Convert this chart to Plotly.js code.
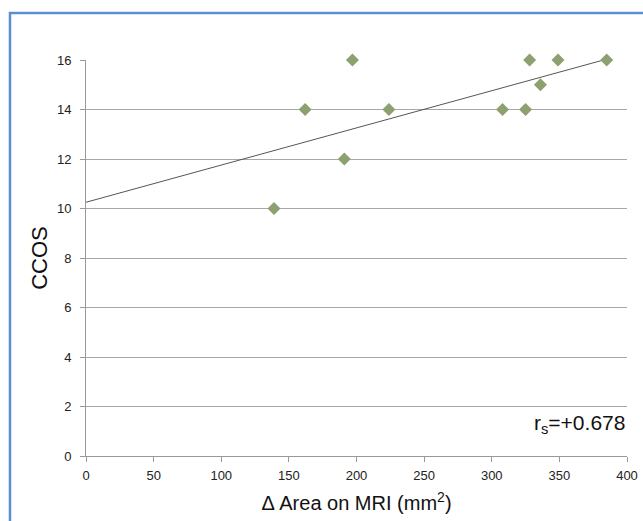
<!DOCTYPE html>
<html>
<head>
<meta charset="utf-8">
<script src="https://cdn.plot.ly/plotly-3.0.1.min.js"></script>
<style>
html,body{margin:0;padding:0;background:#fff;}
#chart{width:643px;height:521px;}
</style>
</head>
<body>
<div id="chart"></div>
<script>
// Data
const deltaArea = [139, 162, 191, 197, 224, 308, 325, 328, 336, 349, 385];
const ccos      = [10, 14, 12, 16, 14, 14, 14, 16, 15, 16, 16];
const xTicks = [0, 50, 100, 150, 200, 250, 300, 350, 400];
const yTicks = [0, 2, 4, 6, 8, 10, 12, 14, 16];
const corrLabel = 'r<sub>s</sub>=+0.678';
const xTitle = '\u0394 Area on MRI (mm<sup>2</sup>)';
const yTitle = 'CCOS';

// Least-squares trend line
const n = deltaArea.length;
const mx = deltaArea.reduce((a,b)=>a+b,0)/n;
const my = ccos.reduce((a,b)=>a+b,0)/n;
let sxy=0, sxx=0;
for (let i=0;i<n;i++){ sxy += (deltaArea[i]-mx)*(ccos[i]-my); sxx += (deltaArea[i]-mx)**2; }
const slope = sxy/sxx, intercept = my - slope*mx;
const trendX = [0, 392];
const trendY = trendX.map(x => intercept + slope*x);

const tickFont = {family:'"Liberation Sans Narrow", "Liberation Sans", Arial, sans-serif', size:13, color:'#222'};

const traces = [
  {x: trendX, y: trendY, mode:'lines', type:'scatter', cliponaxis:false,
   line:{color:'#555555', width:1}, hoverinfo:'skip', showlegend:false},
  {x: deltaArea, y: ccos, mode:'markers', type:'scatter', cliponaxis:false,
   marker:{symbol:'diamond', size:10, color:'#8ca070', line:{width:0}}, showlegend:false}
];

const layout = {
  width:643, height:521,
  margin:{l:86, r:16, t:60, b:65},
  paper_bgcolor:'#ffffff', plot_bgcolor:'rgba(0,0,0,0)',
  font:{family:'"Liberation Sans", Arial, sans-serif', color:'#000'},
  xaxis:{range:[0,400], tickvals:xTicks, ticks:'outside', ticklen:5, tickcolor:'#999',
         showline:true, linecolor:'#999', linewidth:1, showgrid:false, zeroline:false,
         tickfont:tickFont, fixedrange:true, ticklabelstandoff:2,
         title:{text:xTitle, font:{size:20, color:'#111'}, standoff:14}},
  yaxis:{range:[0,16], tickvals:yTicks, ticks:'outside', ticklen:5, tickcolor:'#999',
         showline:true, linecolor:'#999', linewidth:1, showgrid:true, gridcolor:'#a8a8a8', gridwidth:1,
         zeroline:false, tickfont:tickFont, fixedrange:true, ticklabelstandoff:6,
         title:{text:yTitle, font:{size:22, color:'#111'}, standoff:3}},
  shapes:[{type:'rect', xref:'paper', yref:'paper', x0:-0.1405, x1:1.3, y0:-0.4, y1:1.1187,
           line:{color:'#5b8fd0', width:2.5}, fillcolor:'rgba(0,0,0,0)', layer:'below'}],
  annotations:[{text:corrLabel, xref:'paper', yref:'paper', x:1.0, y:0.08, xanchor:'right', yanchor:'middle',
                showarrow:false, font:{size:21, color:'#111'}}]
};

Plotly.newPlot('chart', traces, layout, {displayModeBar:false, staticPlot:true});
</script>
</body>
</html>
